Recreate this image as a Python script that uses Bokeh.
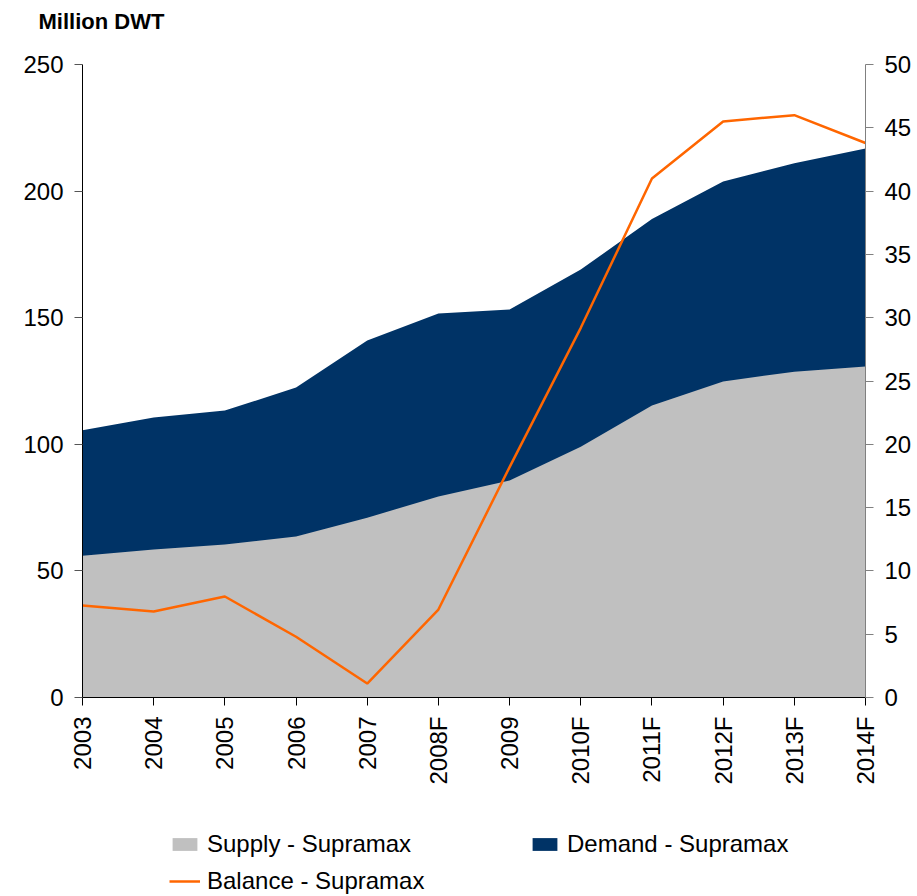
from math import pi
from bokeh.plotting import figure
from bokeh.layouts import column
from bokeh.models import (ColumnDataSource, Range1d, LinearAxis, FixedTicker,
                          Legend, LegendItem)
from bokeh.embed import file_html
from bokeh.resources import INLINE

years = ["2003", "2004", "2005", "2006", "2007", "2008F", "2009",
         "2010F", "2011F", "2012F", "2013F", "2014F"]
supply = [56, 58.5, 60.4, 63.6, 71, 79.4, 85.7, 99, 115.3, 124.8, 128.7, 130.7]
demand = [105.5, 110.6, 113.3, 122.4, 141, 151.7, 153.2, 169, 189, 203.8, 211, 216.8]
balance = [7.27, 6.8, 7.98, 4.8, 1.1, 6.95, 18.2, 29.2, 41, 45.5, 46, 43.8]

left_ticks = [0, 50, 100, 150, 200, 250]
right_ticks = [0, 5, 10, 15, 20, 25, 30, 35, 40, 45, 50]

NAVY = "#003366"
GREY = "#C0C0C0"
ORANGE = "#FF6600"
FONT = "Liberation Sans"
FS = "24px"

xs = list(range(len(years)))
src = ColumnDataSource(dict(x=xs, supply=supply, demand=demand, balance=balance,
                            zero=[0] * len(xs)))

W = 917
H0 = 40          # title strip
H1 = 770         # main plot
H2 = 86          # legend strip
FRAME_TOP = 64
FRAME_BOTTOM = 697

# title strip
p0 = figure(width=W, height=H0, output_backend="svg", toolbar_location=None,
            x_range=Range1d(0, 1), y_range=Range1d(0, 1),
            min_border_top=H0 - 2, min_border_bottom=0, min_border_left=0,
            min_border_right=0, outline_line_color=None, title="Million DWT")
p0.axis.visible = False
p0.grid.visible = False
p0.title.text_font = FONT
p0.title.text_font_size = "22px"
p0.title.text_font_style = "bold"
p0.title.align = "left"
p0.title.offset = -44
p0.title.standoff = 10
p0.title.text_color = "black"

p = figure(width=W, height=H1, output_backend="svg", toolbar_location=None,
           x_range=Range1d(0, len(years) - 1), y_range=Range1d(0, 250),
           min_border_left=82, min_border_right=52,
           min_border_top=FRAME_TOP - H0,
           min_border_bottom=H0 + H1 - FRAME_BOTTOM)
p.extra_y_ranges = {"right": Range1d(0, 50)}
p.outline_line_color = None
p.grid.visible = False

p.varea(x="x", y1="zero", y2="demand", source=src, fill_color=NAVY)
p.varea(x="x", y1="zero", y2="supply", source=src, fill_color=GREY)
p.line(x="x", y="balance", source=src, line_color=ORANGE, line_width=2.5,
       y_range_name="right")


def style_axis(ax, line_color, tick_color):
    ax.minor_tick_line_color = None
    ax.major_tick_in = 0
    ax.major_tick_out = 8
    ax.axis_line_color = line_color
    ax.major_tick_line_color = tick_color
    ax.major_label_text_font = FONT
    ax.major_label_text_font_size = FS
    ax.major_label_text_color = "black"
    ax.major_label_standoff = 11


xa = p.xaxis[0]
xa.ticker = FixedTicker(ticks=xs)
xa.major_label_overrides = {i: y for i, y in enumerate(years)}
xa.major_label_orientation = pi / 2
style_axis(xa, "black", "black")

ya = p.yaxis[0]
ya.ticker = FixedTicker(ticks=left_ticks)
style_axis(ya, "black", "#555555")

ra = LinearAxis(y_range_name="right", ticker=FixedTicker(ticks=right_ticks))
style_axis(ra, "#808080", "#808080")
p.add_layout(ra, "right")

# legend strip (frame aligned with the main plot's frame by the column layout)
p2 = figure(width=W, height=H2, output_backend="svg", toolbar_location=None,
            x_range=Range1d(0, 10), y_range=Range1d(0, 10),
            min_border=0, outline_line_color=None)
p2.axis.visible = False
p2.grid.visible = False
dummy = ColumnDataSource(dict(x=[-20, -19], y1=[-20, -20], y2=[-19, -19]))
l_sup = p2.varea(x="x", y1="y1", y2="y2", source=dummy, fill_color=GREY)
l_dem = p2.varea(x="x", y1="y1", y2="y2", source=dummy, fill_color=NAVY)
l_bal = p2.line(x="x", y="y1", source=dummy, line_color=ORANGE, line_width=2.5)


def mk_legend(label, r, x, y):
    lg = Legend(items=[LegendItem(label=label, renderers=[r])], location=(x, y),
                label_text_font=FONT, label_text_font_size=FS,
                label_text_color="black", glyph_width=31, glyph_height=16,
                label_standoff=7, padding=0, margin=0, spacing=0,
                border_line_color=None, background_fill_alpha=0)
    p2.add_layout(lg, "center")


FRAME_LEFT = 82
mk_legend("Supply - Supramax", l_sup, 169 - FRAME_LEFT, 38)
mk_legend("Demand - Supramax", l_dem, 529 - FRAME_LEFT, 38)
mk_legend("Balance - Supramax", l_bal, 169 - FRAME_LEFT, 1)

open("out.html", "w").write(file_html(column(p0, p, p2, spacing=0), INLINE))
